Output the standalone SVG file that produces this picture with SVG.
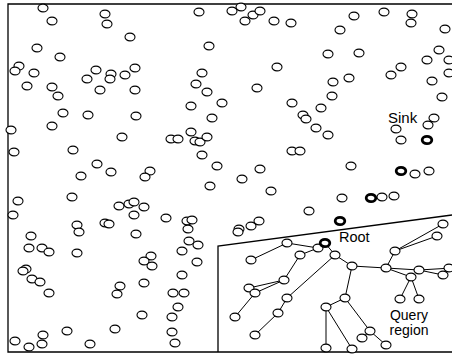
<svg xmlns="http://www.w3.org/2000/svg" xmlns:xlink="http://www.w3.org/1999/xlink" width="452" height="354" viewBox="0 0 452 354">
<style>
.frame{fill:none;stroke:#000;stroke-width:1.3}
.e line{stroke:#000;stroke-width:1}
.o{fill:#fff;stroke:#000;stroke-width:1.1}
.ob{fill:#fff;stroke:#000;stroke-width:2.8}
text{font-family:"Liberation Sans",Arial,sans-serif;font-size:14.5px;fill:#000}
.q{font-size:14px}
</style>
<defs>
<ellipse id="o" class="o" cx="0" cy="0" rx="5" ry="3.9"/>
<ellipse id="ob" class="ob" cx="0" cy="0" rx="4.8" ry="3.7"/>
</defs>
<rect width="452" height="354" fill="#fff"/>
<path class="frame" d="M452 4H8V352H452"/>
<path class="frame" d="M218 352V246L452 215"/>
<g id="edges" class="e">
<line x1="287" y1="243" x2="318" y2="248"/>
<line x1="287" y1="243" x2="251" y2="260"/>
<line x1="318" y1="248" x2="300" y2="255"/>
<line x1="300" y1="255" x2="284" y2="280"/>
<line x1="284" y1="280" x2="249" y2="288"/>
<line x1="284" y1="280" x2="255" y2="293"/>
<line x1="255" y1="293" x2="235" y2="317"/>
<line x1="325" y1="243" x2="335" y2="255"/>
<line x1="335" y1="255" x2="287" y2="298"/>
<line x1="287" y1="298" x2="278" y2="313"/>
<line x1="278" y1="313" x2="255" y2="335"/>
<line x1="335" y1="255" x2="352" y2="266"/>
<line x1="352" y1="266" x2="386" y2="268"/>
<line x1="352" y1="266" x2="345" y2="298"/>
<line x1="345" y1="298" x2="326" y2="307"/>
<line x1="326" y1="307" x2="326" y2="348"/>
<line x1="326" y1="307" x2="352" y2="349"/>
<line x1="345" y1="298" x2="370" y2="331"/>
<line x1="370" y1="331" x2="386" y2="345"/>
<line x1="370" y1="331" x2="362" y2="338"/>
<line x1="386" y1="268" x2="395" y2="251"/>
<line x1="395" y1="251" x2="437" y2="236"/>
<line x1="395" y1="251" x2="443" y2="224"/>
<line x1="386" y1="268" x2="419" y2="270"/>
<line x1="386" y1="268" x2="411" y2="277"/>
<line x1="419" y1="270" x2="452" y2="268"/>
<line x1="419" y1="270" x2="443" y2="275"/>
<line x1="411" y1="277" x2="400" y2="299"/>
<line x1="411" y1="277" x2="419" y2="299"/>
</g>
<g id="nodes">
<g id="a1"><use xlink:href="#o" x="43" y="8"/></g>
<g id="a2"><use xlink:href="#o" x="52" y="21"/></g>
<g id="a3"><use xlink:href="#o" x="105" y="14"/></g>
<g id="a4"><use xlink:href="#o" x="107" y="24"/></g>
<g id="a5"><use xlink:href="#o" x="37" y="48"/></g>
<g id="a6"><use xlink:href="#o" x="60" y="57"/></g>
<g id="a7"><use xlink:href="#o" x="19" y="66"/></g>
<g id="a8"><use xlink:href="#o" x="15" y="71"/></g>
<g id="a9"><use xlink:href="#o" x="34" y="73"/></g>
<g id="a10"><use xlink:href="#o" x="96" y="70"/></g>
<g id="a11"><use xlink:href="#o" x="111" y="74"/></g>
<g id="a12"><use xlink:href="#o" x="110" y="79"/></g>
<g id="a13"><use xlink:href="#o" x="87" y="79"/></g>
<g id="a14"><use xlink:href="#o" x="27" y="86"/></g>
<g id="a15"><use xlink:href="#o" x="52" y="87"/></g>
<g id="a16"><use xlink:href="#o" x="100" y="90"/></g>
<g id="a17"><use xlink:href="#o" x="58" y="96"/></g>
<g id="a18"><use xlink:href="#o" x="63" y="113"/></g>
<g id="a19"><use xlink:href="#o" x="88" y="115"/></g>
<g id="b1"><use xlink:href="#o" x="199" y="12"/></g>
<g id="b2"><use xlink:href="#o" x="130" y="37"/></g>
<g id="b3"><use xlink:href="#o" x="209" y="46"/></g>
<g id="b4"><use xlink:href="#o" x="135" y="68"/></g>
<g id="b5"><use xlink:href="#o" x="125" y="75"/></g>
<g id="b6"><use xlink:href="#o" x="202" y="73"/></g>
<g id="b7"><use xlink:href="#o" x="196" y="84"/></g>
<g id="b8"><use xlink:href="#o" x="207" y="92"/></g>
<g id="b9"><use xlink:href="#o" x="135" y="90"/></g>
<g id="b10"><use xlink:href="#o" x="222" y="103"/></g>
<g id="b11"><use xlink:href="#o" x="191" y="106"/></g>
<g id="b12"><use xlink:href="#o" x="136" y="116"/></g>
<g id="b13"><use xlink:href="#o" x="212" y="118"/></g>
<g id="c1"><use xlink:href="#o" x="232" y="11"/></g>
<g id="c2"><use xlink:href="#o" x="241" y="7"/></g>
<g id="c3"><use xlink:href="#o" x="253" y="15"/></g>
<g id="c4"><use xlink:href="#o" x="260" y="11"/></g>
<g id="c5"><use xlink:href="#o" x="245" y="21"/></g>
<g id="c6"><use xlink:href="#o" x="274" y="21"/></g>
<g id="c7"><use xlink:href="#o" x="291" y="23"/></g>
<g id="c8"><use xlink:href="#o" x="340" y="30"/></g>
<g id="c9"><use xlink:href="#o" x="328" y="54"/></g>
<g id="c10"><use xlink:href="#o" x="277" y="67"/></g>
<g id="c11"><use xlink:href="#o" x="333" y="82"/></g>
<g id="c12"><use xlink:href="#o" x="257" y="88"/></g>
<g id="c13"><use xlink:href="#o" x="332" y="96"/></g>
<g id="c14"><use xlink:href="#o" x="292" y="103"/></g>
<g id="c15"><use xlink:href="#o" x="321" y="108"/></g>
<g id="c16"><use xlink:href="#o" x="303" y="115"/></g>
<g id="c17"><use xlink:href="#o" x="306" y="119"/></g>
<g id="d1"><use xlink:href="#o" x="354" y="16"/></g>
<g id="d2"><use xlink:href="#o" x="384" y="12"/></g>
<g id="d3"><use xlink:href="#o" x="412" y="14"/></g>
<g id="d4"><use xlink:href="#o" x="411" y="23"/></g>
<g id="d5"><use xlink:href="#o" x="445" y="29"/></g>
<g id="d6"><use xlink:href="#o" x="359" y="53"/></g>
<g id="d7"><use xlink:href="#o" x="439" y="50"/></g>
<g id="d8"><use xlink:href="#o" x="427" y="60"/></g>
<g id="d9"><use xlink:href="#o" x="449" y="60"/></g>
<g id="d10"><use xlink:href="#o" x="401" y="67"/></g>
<g id="d11"><use xlink:href="#o" x="391" y="75"/></g>
<g id="d12"><use xlink:href="#o" x="349" y="78"/></g>
<g id="d13"><use xlink:href="#o" x="449" y="73"/></g>
<g id="d14"><use xlink:href="#o" x="432" y="81"/></g>
<g id="d15"><use xlink:href="#o" x="442" y="97"/></g>
<g id="d16"><use xlink:href="#o" x="434" y="118"/></g>
<g id="e1"><use xlink:href="#o" x="11" y="130"/></g>
<g id="e2"><use xlink:href="#o" x="52" y="126"/></g>
<g id="e3"><use xlink:href="#o" x="14" y="152"/></g>
<g id="e4"><use xlink:href="#o" x="73" y="150"/></g>
<g id="e5"><use xlink:href="#o" x="97" y="164"/></g>
<g id="e6"><use xlink:href="#o" x="111" y="172"/></g>
<g id="e7"><use xlink:href="#o" x="81" y="176"/></g>
<g id="e8"><use xlink:href="#o" x="18" y="201"/></g>
<g id="e9"><use xlink:href="#o" x="72" y="197"/></g>
<g id="e10"><use xlink:href="#o" x="13" y="215"/></g>
<g id="e11"><use xlink:href="#o" x="77" y="225"/></g>
<g id="e12"><use xlink:href="#o" x="79" y="232"/></g>
<g id="e13"><use xlink:href="#o" x="105" y="223"/></g>
<g id="e14"><use xlink:href="#o" x="109" y="224"/></g>
<g id="e15"><use xlink:href="#o" x="31" y="236"/></g>
<g id="f1"><use xlink:href="#o" x="122" y="137"/></g>
<g id="f2"><use xlink:href="#o" x="171" y="139"/></g>
<g id="f3"><use xlink:href="#o" x="178" y="139"/></g>
<g id="f4"><use xlink:href="#o" x="191" y="132"/></g>
<g id="f5"><use xlink:href="#o" x="195" y="141"/></g>
<g id="f6"><use xlink:href="#o" x="200" y="142"/></g>
<g id="f7"><use xlink:href="#o" x="207" y="137"/></g>
<g id="f8"><use xlink:href="#o" x="202" y="155"/></g>
<g id="f9"><use xlink:href="#o" x="217" y="166"/></g>
<g id="f10"><use xlink:href="#o" x="150" y="171"/></g>
<g id="f11"><use xlink:href="#o" x="145" y="177"/></g>
<g id="f12"><use xlink:href="#o" x="210" y="186"/></g>
<g id="f13"><use xlink:href="#o" x="119" y="206"/></g>
<g id="f14"><use xlink:href="#o" x="129" y="204"/></g>
<g id="f15"><use xlink:href="#o" x="134" y="202"/></g>
<g id="f16"><use xlink:href="#o" x="144" y="207"/></g>
<g id="f17"><use xlink:href="#o" x="134" y="215"/></g>
<g id="f18"><use xlink:href="#o" x="166" y="218"/></g>
<g id="f19"><use xlink:href="#o" x="187" y="221"/></g>
<g id="f20"><use xlink:href="#o" x="192" y="220"/></g>
<g id="f21"><use xlink:href="#o" x="188" y="229"/></g>
<g id="f22"><use xlink:href="#o" x="136" y="234"/></g>
<g id="g1"><use xlink:href="#o" x="316" y="128"/></g>
<g id="g2"><use xlink:href="#o" x="328" y="135"/></g>
<g id="g3"><use xlink:href="#o" x="292" y="151"/></g>
<g id="g4"><use xlink:href="#o" x="300" y="151"/></g>
<g id="g5"><use xlink:href="#o" x="260" y="169"/></g>
<g id="g6"><use xlink:href="#o" x="242" y="179"/></g>
<g id="g7"><use xlink:href="#o" x="271" y="191"/></g>
<g id="g8"><use xlink:href="#o" x="309" y="211"/></g>
<g id="g9"><use xlink:href="#o" x="239" y="229"/></g>
<g id="g10"><use xlink:href="#o" x="238" y="232"/></g>
<g id="g11"><use xlink:href="#o" x="251" y="226"/></g>
<g id="g12"><use xlink:href="#o" x="259" y="221"/></g>
<g id="h1"><use xlink:href="#o" x="396" y="129"/></g>
<g id="h2"><use xlink:href="#o" x="401" y="140"/></g>
<g id="h3"><use xlink:href="#o" x="428" y="125"/></g>
<g id="h4"><use xlink:href="#o" x="351" y="166"/></g>
<g id="h5"><use xlink:href="#o" x="415" y="174"/></g>
<g id="h6"><use xlink:href="#o" x="429" y="171"/></g>
<g id="h7"><use xlink:href="#o" x="342" y="198"/></g>
<g id="h8"><use xlink:href="#o" x="382" y="197"/></g>
<g id="h9"><use xlink:href="#o" x="394" y="196"/></g>
<g id="hb1"><use xlink:href="#ob" x="427" y="140"/></g>
<g id="hb2"><use xlink:href="#ob" x="401" y="171"/></g>
<g id="hb3"><use xlink:href="#ob" x="371" y="198"/></g>
<g id="hb4"><use xlink:href="#ob" x="340" y="221"/></g>
<g id="i1"><use xlink:href="#o" x="29" y="248"/></g>
<g id="i2"><use xlink:href="#o" x="42" y="248"/></g>
<g id="i3"><use xlink:href="#o" x="49" y="252"/></g>
<g id="i4"><use xlink:href="#o" x="77" y="253"/></g>
<g id="i5"><use xlink:href="#o" x="26" y="269"/></g>
<g id="i6"><use xlink:href="#o" x="23" y="271"/></g>
<g id="i7"><use xlink:href="#o" x="32" y="279"/></g>
<g id="i8"><use xlink:href="#o" x="40" y="282"/></g>
<g id="i9"><use xlink:href="#o" x="49" y="293"/></g>
<g id="i10"><use xlink:href="#o" x="67" y="331"/></g>
<g id="i11"><use xlink:href="#o" x="43" y="335"/></g>
<g id="i12"><use xlink:href="#o" x="42" y="344"/></g>
<g id="i13"><use xlink:href="#o" x="15" y="341"/></g>
<g id="i14"><use xlink:href="#o" x="29" y="347"/></g>
<g id="i15"><use xlink:href="#o" x="90" y="344"/></g>
<g id="j1"><use xlink:href="#o" x="189" y="241"/></g>
<g id="j2"><use xlink:href="#o" x="198" y="245"/></g>
<g id="j3"><use xlink:href="#o" x="182" y="251"/></g>
<g id="j4"><use xlink:href="#o" x="151" y="256"/></g>
<g id="j5"><use xlink:href="#o" x="144" y="261"/></g>
<g id="j6"><use xlink:href="#o" x="152" y="266"/></g>
<g id="j7"><use xlink:href="#o" x="197" y="262"/></g>
<g id="j8"><use xlink:href="#o" x="182" y="275"/></g>
<g id="j9"><use xlink:href="#o" x="120" y="286"/></g>
<g id="j10"><use xlink:href="#o" x="117" y="294"/></g>
<g id="j11"><use xlink:href="#o" x="144" y="283"/></g>
<g id="j12"><use xlink:href="#o" x="173" y="293"/></g>
<g id="j13"><use xlink:href="#o" x="184" y="293"/></g>
<g id="j14"><use xlink:href="#o" x="178" y="307"/></g>
<g id="j15"><use xlink:href="#o" x="172" y="317"/></g>
<g id="j16"><use xlink:href="#o" x="142" y="315"/></g>
<g id="j17"><use xlink:href="#o" x="115" y="329"/></g>
<g id="j18"><use xlink:href="#o" x="172" y="332"/></g>
<g id="j19"><use xlink:href="#o" x="175" y="343"/></g>
<g id="t1"><use xlink:href="#o" x="287" y="243"/></g>
<g id="t2"><use xlink:href="#o" x="318" y="248"/></g>
<g id="root"><use xlink:href="#ob" x="325" y="243"/></g>
<g id="t3"><use xlink:href="#o" x="300" y="255"/></g>
<g id="t4"><use xlink:href="#o" x="335" y="255"/></g>
<g id="t5"><use xlink:href="#o" x="251" y="260"/></g>
<g id="t6"><use xlink:href="#o" x="284" y="280"/></g>
<g id="t7"><use xlink:href="#o" x="249" y="288"/></g>
<g id="t8"><use xlink:href="#o" x="255" y="293"/></g>
<g id="t9"><use xlink:href="#o" x="287" y="298"/></g>
<g id="t10"><use xlink:href="#o" x="326" y="307"/></g>
<g id="t11"><use xlink:href="#o" x="278" y="313"/></g>
<g id="t12"><use xlink:href="#o" x="235" y="317"/></g>
<g id="t13"><use xlink:href="#o" x="255" y="335"/></g>
<g id="t14"><use xlink:href="#o" x="326" y="348"/></g>
<g id="t15"><use xlink:href="#o" x="395" y="251"/></g>
<g id="t16"><use xlink:href="#o" x="352" y="266"/></g>
<g id="t17"><use xlink:href="#o" x="386" y="268"/></g>
<g id="t18"><use xlink:href="#o" x="419" y="270"/></g>
<g id="t19"><use xlink:href="#o" x="449" y="268"/></g>
<g id="t20"><use xlink:href="#o" x="411" y="277"/></g>
<g id="t21"><use xlink:href="#o" x="443" y="275"/></g>
<g id="t22"><use xlink:href="#o" x="345" y="298"/></g>
<g id="t23"><use xlink:href="#o" x="400" y="299"/></g>
<g id="t24"><use xlink:href="#o" x="419" y="299"/></g>
<g id="t25"><use xlink:href="#o" x="370" y="331"/></g>
<g id="t26"><use xlink:href="#o" x="362" y="338"/></g>
<g id="t27"><use xlink:href="#o" x="386" y="345"/></g>
<g id="t28"><use xlink:href="#o" x="352" y="349"/></g>
<g id="t29"><use xlink:href="#o" x="437" y="236"/></g>
<g id="t30"><use xlink:href="#o" x="443" y="224"/></g>
</g>
<g id="labels">
<text x="388" y="123" style="font-size:15px">Sink</text>
<text x="339" y="242">Root</text>
<text class="q" x="409" y="320" text-anchor="middle">Query</text>
<text class="q" x="409" y="335" text-anchor="middle">region</text>
</g>
</svg>
